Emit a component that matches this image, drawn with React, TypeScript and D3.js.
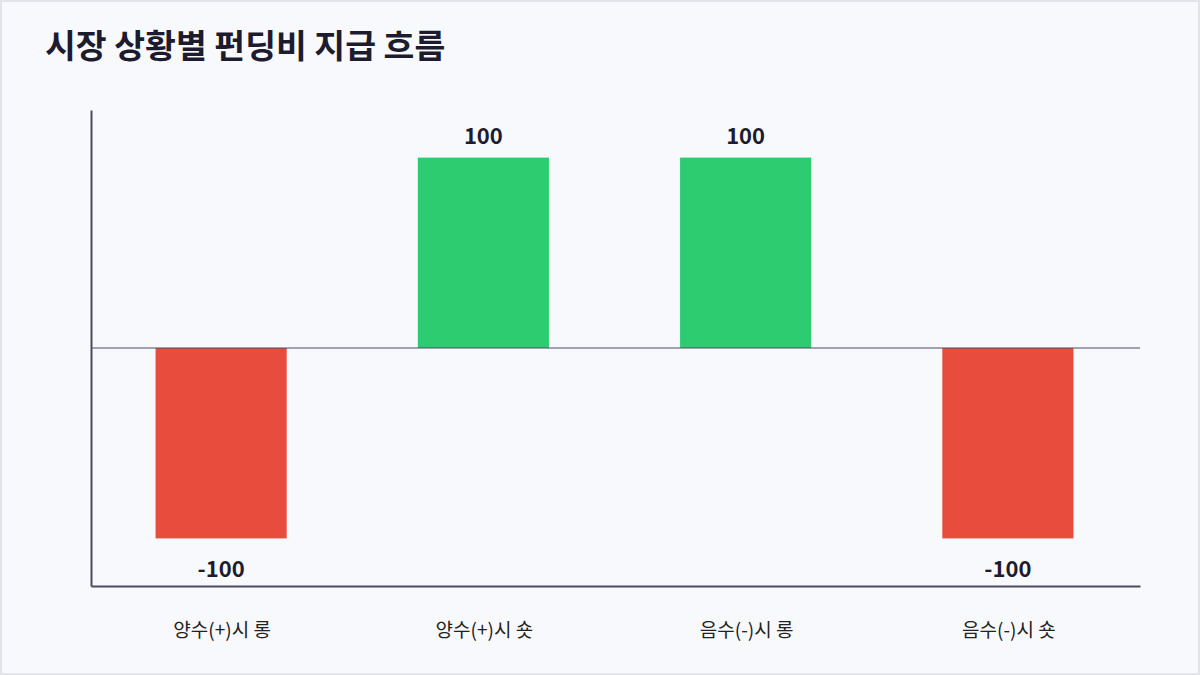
import React, { useEffect, useRef } from 'react';
import * as d3 from 'd3';

const categories = ['양수(+)시 롱', '양수(+)시 숏', '음수(-)시 롱', '음수(-)시 숏'];
const values = [-100, 100, 100, -100];
const title = '시장 상황별 펀딩비 지급 흐름';

const FONT = '"Noto Sans CJK KR", "Noto Sans", sans-serif';

export default function App() {
  const svgRef = useRef<SVGSVGElement>(null);

  useEffect(() => {
    document.body.style.margin = '0';
    if (!svgRef.current) return;

    const svg = d3.select(svgRef.current);
    svg.selectAll('*').remove();

    const W = 1200;
    const H = 675;
    const margin = { top: 110, right: 60, bottom: 89, left: 91 };
    const width = W - margin.left - margin.right;
    const height = H - margin.top - margin.bottom;

    // background + frame
    svg.append('rect')
      .attr('x', 1)
      .attr('y', 1)
      .attr('width', W - 2)
      .attr('height', H - 2)
      .attr('fill', '#f8f9fd')
      .attr('stroke', '#e2e4ea')
      .attr('stroke-width', 2);

    svg.append('text')
      .attr('x', 45)
      .attr('y', 58)
      .attr('font-family', FONT)
      .attr('font-size', '33.5px')
      .attr('font-weight', 'bold')
      .attr('fill', '#1c1c2e')
      .text(title);

    const g = svg.append('g')
      .attr('transform', `translate(${margin.left},${margin.top})`);

    const x = d3.scaleBand<string>()
      .domain(categories)
      .range([0, width])
      .paddingInner(0.5)
      .paddingOuter(0.25);

    const y = d3.scaleLinear()
      .domain([-125, 125])
      .range([height, 0]);

    // bars
    g.selectAll('.bar')
      .data(values)
      .enter()
      .append('rect')
      .attr('class', 'bar')
      .attr('x', (_, i) => x(categories[i])! - 1)
      .attr('width', x.bandwidth())
      .attr('y', d => y(Math.max(0, d)))
      .attr('height', d => Math.abs(y(d) - y(0)))
      .attr('fill', d => (d >= 0 ? '#2ecc71' : '#e74c3c'));

    // zero line
    g.append('line')
      .attr('x1', 0)
      .attr('x2', width)
      .attr('y1', y(0))
      .attr('y2', y(0))
      .attr('stroke', '#4a4a64')
      .attr('stroke-width', 1);

    // value labels
    g.selectAll('.val')
      .data(values)
      .enter()
      .append('text')
      .attr('class', 'val')
      .attr('x', (_, i) => x(categories[i])! - 1 + x.bandwidth() / 2)
      .attr('y', d => (d >= 0 ? y(d) - 14 : y(d) + 39))
      .attr('text-anchor', 'middle')
      .attr('font-family', FONT)
      .attr('font-size', '22px')
      .attr('font-weight', 'bold')
      .attr('fill', '#1c1c2e')
      .text(d => d);

    // axes
    g.append('g')
      .attr('transform', `translate(0,${height})`)
      .call(d3.axisBottom(x).tickSize(0).tickPadding(38))
      .call(a => a.select('.domain').attr('stroke', '#4a4a64').attr('stroke-width', 2))
      .call(a => a.selectAll('text')
        .attr('font-family', FONT)
        .attr('font-size', '19px')
        .attr('fill', '#222222'));

    g.append('g')
      .call(d3.axisLeft(y).tickSize(0).tickValues([]))
      .call(a => a.select('.domain').attr('stroke', '#4a4a64').attr('stroke-width', 2));
  }, []);

  return <svg ref={svgRef} width={1200} height={675} style={{ display: 'block' }} />;
}
